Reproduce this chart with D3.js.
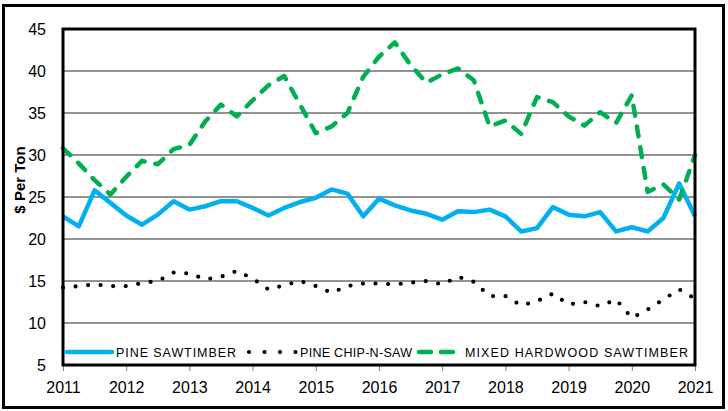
<!DOCTYPE html>
<html>
<head>
<meta charset="utf-8">
<script src="https://cdn.jsdelivr.net/npm/d3@7"></script>
<style>
  html, body { margin: 0; padding: 0; background: #ffffff; }
  svg { display: block; }
  text { font-family: "Liberation Sans", Arial, sans-serif; }
</style>
</head>
<body>
<svg id="chart" width="728" height="411"></svg>
<script>
// ---- Data (quarterly, 2011 Q1 .. 2021 Q1) ----
const years = [2011, 2012, 2013, 2014, 2015, 2016, 2017, 2018, 2019, 2020, 2021];
const yTicks = [5, 10, 15, 20, 25, 30, 35, 40, 45];
const seriesNames = ["PINE SAWTIMBER", "PINE CHIP-N-SAW", "MIXED HARDWOOD SAWTIMBER"];

const pineSawtimber = [22.7, 21.5, 25.8, 24.3, 22.8, 21.7, 22.9, 24.5, 23.5, 23.9,
  24.5, 24.5, 23.7, 22.8, 23.7, 24.4, 24.9, 25.9, 25.4, 22.7,
  24.8, 24.0, 23.4, 23.0, 22.3, 23.3, 23.2, 23.5, 22.7, 20.9,
  21.3, 23.8, 22.9, 22.7, 23.2, 20.9, 21.4, 20.9, 22.5, 26.6, 22.7];

const pineChipNSaw = [14.2, 14.4, 14.6, 14.4, 14.4, 14.75, 15.0, 16.0, 15.9, 15.2,
  15.5, 16.2, 15.3, 14.0, 14.5, 15.0, 14.4, 13.6, 14.4, 14.7,
  14.7, 14.6, 14.8, 15.0, 14.6, 15.5, 14.9, 13.2, 13.2, 12.1,
  12.6, 13.5, 12.2, 12.5, 12.0, 12.8, 10.6, 11.6, 12.8, 14.0, 12.9];

const mixedHardwood = [30.8, 29.0, 27.0, 25.3, 27.4, 29.3, 28.9, 30.7, 31.2, 34.0,
  36.0, 34.6, 36.5, 38.3, 39.4, 36.0, 32.6, 33.4, 35.0, 39.3,
  41.7, 43.4, 40.7, 38.6, 39.6, 40.3, 38.9, 33.4, 34.1, 32.5,
  36.9, 36.3, 34.6, 33.5, 35.1, 33.8, 37.1, 25.6, 26.5, 24.7, 30.0];

// ---- Layout ----
const svg = d3.select("#chart");
const plot = { left: 63, right: 695, top: 29, bottom: 365 };

const x = d3.scaleLinear().domain([2011, 2021]).range([plot.left, plot.right]);
const y = d3.scaleLinear().domain([5, 45]).range([plot.bottom, plot.top]);

// outer chart border
svg.append("rect")
  .attr("x", 3.5).attr("y", 5.5).attr("width", 720).attr("height", 402)
  .attr("fill", "#ffffff").attr("stroke", "#000").attr("stroke-width", 3);

// gridlines
svg.append("g")
  .selectAll("line")
  .data(yTicks.filter(t => t > 5 && t < 45))
  .join("line")
  .attr("x1", plot.left).attr("x2", plot.right)
  .attr("y1", d => y(d)).attr("y2", d => y(d))
  .attr("stroke", "#6f6f6f").attr("stroke-width", 1.4);

// axes
const xAxis = d3.axisBottom(x).tickValues(years).tickFormat(d3.format("d")).tickSize(6).tickPadding(11);
const gx = svg.append("g").attr("transform", `translate(0,${plot.bottom})`).call(xAxis);
gx.select(".domain").remove();
gx.selectAll(".tick line").attr("stroke", "#808080").attr("stroke-width", 1);
gx.selectAll("text").attr("font-size", 16).attr("fill", "#000");

const yAxis = d3.axisLeft(y).tickValues(yTicks).tickSize(0).tickPadding(17);
const gy = svg.append("g").attr("transform", `translate(${plot.left},0)`).call(yAxis);
gy.select(".domain").remove();
gy.selectAll("text").attr("font-size", 16).attr("fill", "#000");

// y title
svg.append("text")
  .attr("transform", "translate(25,180) rotate(-90)")
  .attr("text-anchor", "middle")
  .attr("font-size", 15).attr("font-weight", "bold")
  .text("$ Per Ton");

// series
const line = d3.line().x((d, i) => x(2011 + i / 4)).y(d => y(d));

svg.append("path").datum(pineSawtimber)
  .attr("d", line).attr("fill", "none")
  .attr("stroke", "#00b0f0").attr("stroke-width", 4.5)
  .attr("stroke-linejoin", "round");

svg.append("path").datum(pineChipNSaw)
  .attr("d", line).attr("fill", "none")
  .attr("stroke", "#000").attr("stroke-width", 4.2)
  .attr("stroke-linecap", "round").attr("stroke-dasharray", "0,12.6");

svg.append("path").datum(mixedHardwood)
  .attr("d", line).attr("fill", "none")
  .attr("stroke", "#00b050").attr("stroke-width", 4.5)
  .attr("stroke-linecap", "round").attr("stroke-linejoin", "round")
  .attr("stroke-dasharray", "10,11");

// plot frame
svg.append("rect")
  .attr("x", plot.left).attr("y", plot.top)
  .attr("width", plot.right - plot.left).attr("height", plot.bottom - plot.top)
  .attr("fill", "none").attr("stroke", "#000").attr("stroke-width", 3);

// legend
const legendY = 352;
const legend = svg.append("g");
const legendItems = [
  { name: seriesNames[0], x0: 67, x1: 112, tx: 116, tw: 120, stroke: "#00b0f0", dash: null },
  { name: seriesNames[1], x0: 249, x1: 297, tx: 300, tw: 112, stroke: "#000", dash: "0,15.5" },
  { name: seriesNames[2], x0: 419, x1: 460, tx: 465, tw: 223, stroke: "#00b050", dash: "12,10" }
];
legendItems.forEach(it => {
  legend.append("line")
    .attr("x1", it.x0).attr("x2", it.x1).attr("y1", legendY).attr("y2", legendY)
    .attr("stroke", it.stroke).attr("stroke-width", it.dash && it.dash.startsWith("0") ? 4.2 : 4.5)
    .attr("stroke-linecap", "round")
    .attr("stroke-dasharray", it.dash);
  legend.append("text")
    .attr("x", it.tx).attr("y", legendY + 4.5)
    .attr("font-size", 12.5)
    .attr("textLength", it.tw).attr("lengthAdjust", "spacing")
    .text(it.name);
});
</script>
</body>
</html>
